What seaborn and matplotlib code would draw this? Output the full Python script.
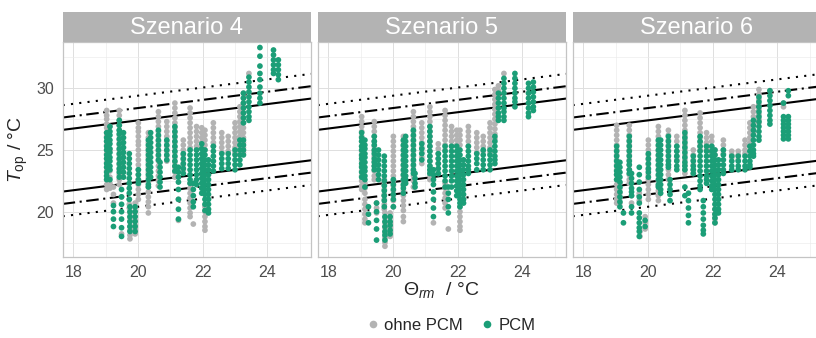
import matplotlib
matplotlib.use("Agg")
import matplotlib.pyplot as plt
from matplotlib.lines import Line2D
import seaborn as sns
import pandas as pd

# Running-mean outdoor temperature (x) and hourly operative temperatures (y) per day
s4_ohne = [
    (19.03, [28.2, 27.8, 27.5, 27.1, 26.8, 26.4, 26.1, 25.7, 25.4, 25.0, 24.7, 24.3, 24.0, 23.6, 23.3, 22.9, 22.6, 22.2, 21.8]),
    (19.13, [26.9, 25.0, 23.3, 22.8, 22.3, 21.9]),
    (19.24, [22.0, 21.4, 20.7]),
    (19.42, [28.2, 27.8, 27.4, 27.0, 26.6, 26.2, 25.8, 25.4, 25.0, 24.6, 24.2, 23.8, 23.4, 23.0, 22.6, 22.2]),
    (19.49, [21.2, 18.2]),
    (19.73, [21.0, 20.6, 20.3]),
    (19.75, [19.9, 19.5, 19.2, 18.8, 18.5, 18.1, 17.8]),
    (19.91, [20.7, 20.3, 20.0, 19.6, 19.3, 18.9, 18.6, 18.2]),
    (20.01, [27.2, 26.8, 26.5, 26.1, 25.7, 25.4, 25.0, 24.6, 24.2, 23.8, 23.4, 23.0, 22.6, 22.2, 21.8, 21.4, 21.0]),
    (20.32, [26.4, 26.0, 25.6, 25.2, 24.8, 24.4, 24.0, 23.6, 23.2, 22.8, 22.4, 22.0, 21.6, 21.2, 20.8, 20.4, 19.9]),
    (20.63, [28.1, 27.7, 27.3, 26.9, 26.5, 26.1, 25.7, 25.3, 24.9, 24.5, 24.1, 23.7, 23.3, 22.9, 22.5, 22.1]),
    (20.89, [27.3, 26.9, 26.5, 26.1, 25.7, 25.3, 24.9, 24.5, 24.1]),
    (21.14, [28.8, 28.4, 28.0, 27.6, 27.2, 26.8, 26.4, 26.0, 25.6, 25.2, 24.8, 24.4, 24.0, 23.6, 23.2, 22.8]),
    (21.25, [21.0, 19.3]),
    (21.40, [25.8, 25.4, 25.0, 24.6, 24.2, 23.8, 23.4]),
    (21.61, [28.4, 28.0, 27.6, 27.2, 26.8, 26.4, 26.0, 25.6, 25.2, 22.3, 21.9, 21.5, 21.1, 20.7, 20.3, 19.9, 19.6]),
    (21.71, [19.0]),
    (21.81, [26.9, 26.5, 26.1, 25.7, 25.3, 25.0]),
    (21.97, [26.8, 26.4, 26.0, 25.6, 25.2]),
    (22.07, [26.6, 26.2, 25.8, 25.4, 25.0, 20.4, 20.0, 19.6, 19.2, 18.8, 18.5]),
    (22.33, [27.2, 26.8, 26.4, 26.0, 25.6, 25.3]),
    (22.59, [26.4, 26.0, 25.6, 25.2, 24.8]),
    (22.79, [26.1, 25.7, 25.3, 24.9]),
    (23.00, [27.2, 26.8, 26.4, 26.0, 25.6, 25.2, 24.8]),
    (23.15, [28.5, 28.1, 27.7, 27.3, 26.9, 26.5, 26.1, 25.8]),
    (23.26, [29.6, 29.2, 28.8, 28.4, 28.0, 27.6, 27.2, 26.8, 26.4, 26.0, 25.6, 25.2, 24.8]),
    (23.43, [31.2]),
]
s4_pcm = [
    (19.03, [26.4, 26.0, 25.7, 25.3, 25.0, 24.6, 24.3, 23.9, 23.6, 23.2, 22.9, 22.6]),
    (19.13, [26.9, 26.5, 26.2, 25.8, 25.5, 25.1, 24.8, 24.4, 24.1, 23.7, 23.4, 22.6]),
    (19.24, [20.5, 20.0, 19.4, 18.8]),
    (19.42, [27.4, 27.0, 26.6, 26.3, 25.9, 25.5, 25.1, 24.7, 24.3, 23.9, 23.5, 23.2, 22.8]),
    (19.49, [21.8, 21.2, 20.6, 20.0, 19.4, 18.7, 18.0]),
    (19.55, [26.4, 26.0, 25.6, 25.2, 24.8, 24.4, 24.0, 23.6, 23.2, 22.8]),
    (19.73, [24.7, 24.3, 23.9, 23.5, 23.1, 22.7, 22.3, 21.9, 21.5, 21.0]),
    (19.75, [20.4, 20.0, 19.6, 19.2, 18.8, 18.4]),
    (19.91, [20.4, 20.0, 19.6, 19.2, 18.8, 18.4]),
    (20.01, [23.4, 23.0, 22.6, 22.3]),
    (20.32, [25.8, 25.4, 25.0, 24.6, 24.2, 23.8, 23.4, 23.0, 22.6, 22.2, 22.0]),
    (20.39, [26.4, 26.0, 25.6, 25.2, 24.8, 24.4, 24.0, 23.6, 23.2, 22.8]),
    (20.63, [26.6, 26.2, 25.8, 25.4, 25.0, 24.6, 24.2]),
    (20.68, [24.0, 23.6, 23.2, 22.8, 22.4, 22.0]),
    (20.89, [25.8, 25.4, 25.0, 24.6, 24.2]),
    (21.14, [26.9, 26.5, 26.1, 25.7, 25.3, 24.9, 24.5, 24.1, 23.7, 23.3]),
    (21.25, [23.6, 23.2, 22.8, 22.4, 21.8, 21.0, 20.2, 19.4]),
    (21.40, [24.7, 24.3, 23.9, 23.5, 23.1]),
    (21.61, [25.0, 24.6, 24.2, 23.8, 23.4, 23.0, 22.6, 22.3]),
    (21.71, [22.3, 21.8, 21.3, 20.8, 20.4]),
    (21.81, [25.0, 24.6, 24.2, 23.8, 23.4, 23.0, 22.6, 22.2]),
    (21.97, [25.5, 25.1, 24.7, 24.3, 23.9, 23.5, 23.1, 22.7, 22.3, 21.9, 21.5]),
    (22.07, [25.0, 24.6, 24.2, 23.8, 23.4, 23.0, 22.6, 22.2, 21.8, 21.4, 21.0, 20.6, 20.1]),
    (22.18, [24.2, 23.8, 23.4, 23.0, 22.6, 22.2, 21.8, 21.4, 21.0, 20.6, 20.2, 19.9]),
    (22.33, [25.3, 24.9, 24.5, 24.1, 23.7, 23.3]),
    (22.59, [24.7, 24.3, 23.9, 23.5]),
    (22.79, [24.7, 24.3, 23.9, 23.5]),
    (23.00, [25.0, 24.6, 24.2, 23.8, 23.4]),
    (23.15, [25.8, 25.4, 25.0, 24.6, 24.2, 23.8]),
    (23.26, [29.6, 29.2, 28.8, 28.4, 28.0, 27.6, 27.2, 25.8, 25.4, 25.0, 24.6]),
    (23.43, [30.9, 30.5, 30.1, 29.7, 29.3, 28.9, 28.5, 28.1, 27.7, 27.4]),
    (23.77, [33.3, 32.6, 31.8, 31.2, 30.7, 30.1, 29.6, 29.2, 28.8]),
    (24.19, [33.1, 32.7, 32.3, 31.9, 31.5, 31.2]),
    (24.34, [32.3, 31.9, 31.5, 31.1, 30.7]),
]

s5_ohne = [
    (19.03, [27.7, 27.3, 26.9, 26.5, 26.1, 25.7, 25.3, 24.9, 24.5, 24.1, 23.7, 23.3, 22.9, 22.5, 22.1, 21.8]),
    (19.13, [22.3, 21.9, 21.5, 21.0, 20.6, 20.2, 19.8, 19.4, 19.1]),
    (19.42, [27.3, 26.9, 26.5, 26.1, 25.7, 25.3, 24.9, 24.5, 24.1, 23.7, 23.3, 22.9, 22.6]),
    (19.49, [20.7, 20.3, 19.9]),
    (19.73, [22.6, 22.2, 21.8, 21.4, 21.0, 20.6, 20.2]),
    (19.75, [19.9, 19.5, 19.1, 18.7, 18.3, 17.9, 17.5, 17.2]),
    (19.91, [19.9, 19.5, 19.1, 18.7, 18.3, 18.0]),
    (20.01, [26.1, 25.7, 25.3, 24.9, 24.5, 24.1, 23.7, 23.3, 22.9, 22.5, 22.1, 21.7, 21.3, 20.9, 20.4]),
    (20.32, [26.1, 25.7, 25.3, 24.9, 24.5, 24.1, 23.7, 23.3, 22.9, 22.5, 22.1, 21.7, 21.3, 20.9, 20.5, 20.1, 19.6, 19.2]),
    (20.63, [28.1, 27.7, 27.3, 26.9, 26.5, 26.1, 25.7, 25.3, 24.9, 24.5, 24.1, 23.7, 23.3, 22.9, 22.5, 22.0]),
    (20.89, [27.2, 26.8, 26.4, 26.0, 25.6, 25.2, 24.8, 24.4, 23.9]),
    (21.14, [28.5, 28.1, 27.7, 27.3, 26.9, 26.5, 26.1, 25.7, 25.3, 24.9, 24.5, 24.1, 23.7, 23.3, 22.9, 22.6]),
    (21.25, [19.1]),
    (21.40, [25.5, 25.1, 24.7, 24.3, 23.9, 23.5, 23.1]),
    (21.61, [28.2, 27.8, 27.4, 27.0, 26.6, 26.2, 25.8, 25.4, 25.0, 22.3, 21.9, 21.5, 21.1, 20.7, 20.3]),
    (21.71, [18.6]),
    (21.81, [26.9, 26.5, 26.1, 25.7, 25.3]),
    (21.97, [26.6, 26.2, 25.8, 25.4]),
    (22.07, [26.6, 26.2, 25.8, 25.4, 20.4, 20.0, 19.6, 19.2, 18.8, 18.5]),
    (22.33, [26.9, 26.5, 26.1, 25.7, 25.3]),
    (22.59, [26.4, 26.0, 25.6, 25.2, 24.8]),
    (22.79, [26.1, 25.7, 25.3, 24.9]),
    (23.00, [27.2, 26.8, 26.4, 26.0, 25.6, 25.2, 24.8]),
    (23.15, [29.9, 29.5, 29.1, 28.7, 28.3, 27.9, 27.5, 27.1, 26.7, 26.3, 25.9]),
    (23.26, [30.2, 29.8]),
    (23.43, [31.2]),
]
s5_pcm = [
    (19.03, [26.4, 26.0, 25.7, 25.3, 25.0, 24.6, 24.3, 23.9, 23.6, 23.2, 22.8]),
    (19.13, [25.8, 25.4, 25.1, 24.7, 24.4, 24.0, 23.6, 23.3, 22.9, 22.6, 22.0]),
    (19.24, [20.4, 19.8, 19.1]),
    (19.42, [26.1, 25.7, 25.4, 25.0, 24.7, 24.3, 24.0, 23.7, 23.4]),
    (19.49, [20.7, 20.0, 19.3, 18.6, 17.7]),
    (19.55, [25.0, 24.6, 24.2, 23.8, 23.4, 23.0, 22.6]),
    (19.73, [24.5, 24.1, 23.7, 23.3, 22.9, 22.5, 22.1, 21.7, 21.3, 20.9, 20.4]),
    (19.75, [19.6, 19.2, 18.8, 18.4, 18.1, 17.7]),
    (19.91, [19.6, 19.2, 18.9, 18.5, 18.2]),
    (20.01, [22.6, 22.2, 21.8, 21.4, 21.0, 20.4]),
    (20.32, [25.8, 25.4, 25.0, 24.6, 24.2, 23.8, 23.4, 23.0, 22.6, 22.2, 21.9, 21.5]),
    (20.39, [26.1, 25.7, 25.3, 24.9, 24.5, 24.1, 23.7, 23.3, 22.9, 22.6, 22.3]),
    (20.63, [26.6, 26.2, 25.8, 25.4, 25.0, 24.6, 24.2, 23.8, 23.4, 23.1]),
    (20.68, [23.1, 22.7, 22.3, 22.0]),
    (20.89, [25.5, 25.1, 24.7, 24.2]),
    (21.14, [26.9, 26.5, 26.1, 25.7, 25.3, 24.9, 24.5, 24.1, 23.7, 23.4, 23.1]),
    (21.25, [23.4, 23.0, 22.6, 22.2, 21.6, 21.0, 20.3, 19.6]),
    (21.40, [24.7, 24.3, 23.9, 23.5, 23.1]),
    (21.61, [25.3, 24.9, 24.5, 24.1, 23.7, 23.3, 22.9, 22.5, 22.0]),
    (21.71, [22.0, 21.5, 21.0, 20.4, 19.9]),
    (21.81, [25.3, 24.9, 24.5, 24.1, 23.7, 23.3, 22.9, 22.5, 22.0]),
    (21.97, [25.3, 24.9, 24.5, 24.1, 23.7, 23.3, 22.9, 22.5, 22.1, 21.7, 21.3]),
    (22.07, [25.0, 24.6, 24.2, 23.8, 23.4, 23.0, 22.6, 22.2, 21.8, 21.4, 21.0, 20.7, 20.4]),
    (22.18, [24.2, 23.8, 23.4, 23.0, 22.6, 22.2, 21.8, 21.4, 21.0, 20.7]),
    (22.33, [25.3, 24.9, 24.5, 24.1, 23.7, 23.4, 23.1]),
    (22.59, [24.7, 24.3, 23.9, 23.4]),
    (22.79, [25.0, 24.6, 24.2, 23.8, 23.4]),
    (23.00, [25.0, 24.6, 24.2, 23.8, 23.4]),
    (23.15, [26.1, 25.7, 25.3, 24.9, 24.5, 24.2, 23.9]),
    (23.26, [29.6, 29.2, 28.8, 28.4, 28.0, 27.7, 27.4]),
    (23.43, [30.8, 30.4, 30.0, 29.6, 29.2, 28.8, 28.4, 28.1, 27.7, 27.4]),
    (23.77, [31.2, 30.8, 30.4, 30.0, 29.6, 29.2, 28.9, 28.5]),
    (24.19, [30.4, 30.0, 29.6, 29.2, 28.8, 28.4, 28.0, 27.7]),
    (24.34, [30.5, 30.1, 29.7, 29.3, 28.9, 28.5, 28.2]),
]

s6_ohne = [
    (19.03, [27.0, 26.6, 26.2, 25.8, 25.4, 25.0, 24.6, 24.2, 23.8, 23.4, 23.0, 22.6, 22.2, 21.8, 21.4, 21.0, 20.7]),
    (19.13, [22.3, 21.9, 21.5, 21.1, 20.7]),
    (19.42, [27.0, 26.6, 26.2, 25.8, 25.4, 25.0, 24.6, 24.2, 23.8, 23.4, 23.0, 22.6, 22.3]),
    (19.49, [21.3, 20.7]),
    (19.73, [21.5, 20.9]),
    (19.75, [18.4, 18.0]),
    (19.91, [19.6, 19.1, 18.6]),
    (20.01, [25.8, 25.4, 25.0, 24.6, 24.2, 23.8, 23.4, 23.0, 22.6, 22.2, 21.8, 21.4, 21.0]),
    (20.32, [26.9, 26.5, 26.1, 25.7, 25.3, 24.9, 24.5, 24.1, 23.7, 23.3, 22.9, 22.5, 22.1, 21.7, 21.3, 20.9]),
    (20.63, [26.6, 26.2, 25.8, 25.4, 25.0, 24.6, 24.2, 23.8, 23.4, 23.0, 22.6]),
    (20.89, [26.1, 25.7, 25.3, 24.9, 24.5, 24.2]),
    (21.14, [28.2, 27.8, 27.4, 27.0, 26.6, 26.2, 25.8, 25.4, 25.0, 24.6, 24.2, 23.8, 23.4, 23.1]),
    (21.40, [25.0, 24.6, 24.2, 23.8, 23.4, 23.1]),
    (21.61, [28.0, 27.6, 27.2, 26.8, 26.4, 26.0, 25.6, 25.3, 25.0]),
    (21.81, [26.4, 26.0, 25.6, 25.3, 25.0]),
    (21.97, [26.1, 25.7, 25.3, 25.0, 24.7]),
    (22.07, [25.0, 24.6, 20.2, 19.8, 19.4, 19.1]),
    (22.33, [25.8, 25.4, 25.0, 24.7]),
    (22.59, [24.9, 24.6, 24.4]),
    (22.79, [24.9, 24.6, 24.2]),
    (23.00, [25.8, 25.4, 25.0, 24.7]),
    (23.15, [27.2, 26.8, 26.4, 26.0, 25.6, 25.3]),
    (23.26, [28.5, 28.1, 27.7, 27.3, 26.9, 26.6, 26.4]),
    (23.43, [29.9, 29.5, 29.1, 28.7, 28.3, 27.9, 27.5, 27.2]),
    (23.77, [29.8]),
    (24.19, [28.8, 28.5]),
]
s6_pcm = [
    (19.03, [25.3, 24.9, 24.5, 24.1, 23.7, 23.3, 23.0, 22.6]),
    (19.13, [24.0, 23.6, 23.2, 22.8, 22.4, 22.0, 21.6, 21.2, 20.8, 20.4]),
    (19.24, [19.9, 19.1]),
    (19.42, [26.1, 25.7, 25.3, 24.9, 24.5, 24.1, 23.8, 23.4, 23.1]),
    (19.49, [23.1, 22.7, 22.3, 21.9, 21.6, 21.3, 20.4, 19.9]),
    (19.73, [23.6, 23.0, 22.4, 21.8, 21.2, 20.7, 19.9, 19.5, 19.1, 18.7, 18.4, 18.0]),
    (19.91, [19.3, 18.8]),
    (20.01, [24.7, 24.3, 23.9, 23.5, 23.2, 22.8]),
    (20.32, [25.8, 25.4, 25.0, 24.6, 24.2, 23.8, 23.4, 23.0, 22.6, 22.2, 22.0]),
    (20.39, [25.8, 25.4, 25.0, 24.6, 24.2, 23.8, 23.4, 23.0, 22.6, 22.2, 21.8, 21.5]),
    (20.63, [26.1, 25.7, 25.3, 24.9, 24.5, 24.1, 23.8, 23.6]),
    (20.68, [22.6, 22.2, 21.8, 21.4, 20.9]),
    (20.89, [25.3, 24.9, 24.5, 24.1, 23.7, 23.4]),
    (21.14, [26.4, 26.0, 25.6, 25.2, 24.8, 24.4, 24.0, 23.7, 23.4, 22.0, 21.3]),
    (21.25, [21.5, 20.9, 20.3, 19.7, 19.1]),
    (21.40, [24.5, 24.1, 23.7, 23.4, 23.1]),
    (21.61, [26.1, 25.7, 25.3, 24.9, 24.5, 24.1, 23.7, 23.3, 22.9, 22.5, 22.1, 21.8]),
    (21.71, [20.9, 20.4, 19.9, 19.4, 18.9, 18.5, 18.2]),
    (21.81, [25.3, 24.9, 24.5, 24.1, 23.7, 23.3, 22.9, 22.6, 22.3]),
    (21.97, [25.3, 24.9, 24.5, 24.1, 23.7, 23.3, 22.9, 22.5, 22.1, 21.8]),
    (22.07, [25.0, 24.6, 24.2, 23.8, 23.4, 23.0, 22.6, 22.2, 21.8, 21.4, 21.0, 20.6, 20.2, 19.8, 19.5, 19.1]),
    (22.18, [24.2, 23.8, 23.4, 23.0, 22.6, 22.2, 21.8, 21.4, 21.0, 20.6, 20.2, 19.9]),
    (22.33, [25.0, 24.6, 24.2, 23.8, 23.4, 23.1]),
    (22.59, [24.5, 24.1, 23.7, 23.4]),
    (22.79, [24.5, 24.1, 23.7, 23.4]),
    (23.00, [24.5, 24.1, 23.7, 23.4]),
    (23.15, [25.3, 24.9, 24.5, 24.1, 23.8, 23.6]),
    (23.26, [27.4, 27.0, 26.6, 26.2, 25.8, 25.4, 25.0, 24.7, 24.5]),
    (23.43, [29.3, 28.9, 28.5, 28.1, 27.7, 27.3, 26.9, 26.5, 26.1, 25.8]),
    (23.77, [29.8, 29.4, 29.0, 28.6, 28.2, 27.8, 27.4, 27.1]),
    (24.19, [28.8, 27.7, 27.4, 27.1, 26.8, 26.5, 26.2, 25.9]),
    (24.34, [29.8, 29.4, 27.7, 27.4, 27.1, 26.8, 26.5, 26.2, 25.9]),
]

scenarios = ["Szenario 4", "Szenario 5", "Szenario 6"]
series = {
    "Szenario 4": (s4_ohne, s4_pcm),
    "Szenario 5": (s5_ohne, s5_pcm),
    "Szenario 6": (s6_ohne, s6_pcm),
}
variants = ["ohne PCM", "PCM"]
colors = {"ohne PCM": "#B3B3B3", "PCM": "#1B9E77"}

# Adaptive comfort band (EN 15251): T = 0.33 * theta_rm + 18.8 + offset
comfort_slope = 0.33
comfort_base = 18.8
upper_offsets = [2, 3, 4]
lower_offsets = [-3, -4, -5]
band_styles = ["-", (0, (6, 2.2, 1, 2.2)), (0, (1, 3))]

x_ticks = [18, 20, 22, 24]
y_ticks = [20, 25, 30]
x_lim = (17.67, 25.35)
y_lim = (16.33, 33.75)


def to_frame(rows, label):
    recs = []
    for theta, temps in rows:
        for t in temps:
            recs.append({"theta": theta, "top": t, "Variante": label})
    return recs


sns.set_theme(style="white")
plt.rcParams["font.family"] = ["Liberation Sans", "DejaVu Sans"]
plt.rcParams["mathtext.fontset"] = "custom"
plt.rcParams["mathtext.rm"] = "Liberation Sans"
plt.rcParams["mathtext.it"] = "Liberation Sans:italic"

W, H = 816, 338
fig = plt.figure(figsize=(W / 100, H / 100), dpi=100)

panel_left = 62.7
panel_step = 255.0
panel_w = 248.3
panel_top = 42.0
panel_bottom = 257.0
strip_top = 12.0

for i, sc in enumerate(scenarios):
    x0 = (panel_left + i * panel_step) / W
    ax = fig.add_axes([x0, 1 - panel_bottom / H, panel_w / W, (panel_bottom - panel_top) / H])
    ohne, pcm = series[sc]
    df = pd.DataFrame(to_frame(ohne, "ohne PCM") + to_frame(pcm, "PCM"))

    ax.set_xlim(*x_lim)
    ax.set_ylim(*y_lim)
    ax.set_xticks(x_ticks)
    ax.set_yticks(y_ticks)
    ax.set_xticks([19, 21, 23, 25], minor=True)
    ax.set_yticks([17.5, 22.5, 27.5, 32.5], minor=True)
    ax.grid(True, which="major", color="#DEDEDE", linewidth=0.7)
    ax.grid(True, which="minor", color="#EBEBEB", linewidth=0.45)
    ax.set_axisbelow(True)

    for off, ls in zip(upper_offsets, band_styles):
        ax.axline((0, comfort_base + off), slope=comfort_slope, color="black",
                  linewidth=1.5, linestyle=ls, zorder=2)
    for off, ls in zip(lower_offsets, band_styles):
        ax.axline((0, comfort_base + off), slope=comfort_slope, color="black",
                  linewidth=1.5, linestyle=ls, zorder=2)

    sns.scatterplot(data=df, x="theta", y="top", hue="Variante", hue_order=variants,
                    palette=colors, s=17, linewidth=0, alpha=1.0, legend=False,
                    ax=ax, zorder=3)

    ax.set_xlabel("")
    ax.set_ylabel("")
    for sp in ax.spines.values():
        sp.set_color("#C4C4C4")
        sp.set_linewidth(0.9)
    ax.tick_params(axis="both", which="major", length=3, width=0.7, color="#B3B3B3",
                   labelsize=11.5, labelcolor="#4D4D4D", pad=3)
    ax.tick_params(axis="both", which="minor", length=0)
    if i > 0:
        ax.tick_params(axis="y", labelleft=False, length=0)

    # facet strip
    sax = fig.add_axes([x0, 1 - panel_top / H, panel_w / W, (panel_top - strip_top) / H])
    sax.set_facecolor("#B3B3B3")
    sax.set_xticks([])
    sax.set_yticks([])
    for sp in sax.spines.values():
        sp.set_visible(False)
    sax.text(0.5, 0.45, sc, color="white", fontsize=17, ha="center", va="center",
             transform=sax.transAxes)

fig.text(18 / W, 1 - 150 / H, r"$T_{\mathrm{op}}$ / °C", rotation=90, fontsize=14,
         ha="center", va="center")
fig.text(441 / W, 1 - 290 / H, r"$\Theta_{rm}$  / °C", fontsize=14, ha="center", va="center")

handles = [Line2D([0], [0], marker="o", linestyle="", markersize=5.5,
                  markerfacecolor=colors[v], markeredgewidth=0, label=v) for v in variants]
fig.legend(handles=handles, loc="center", bbox_to_anchor=(449 / W, 1 - 325 / H), ncol=2,
           frameon=False, fontsize=12, handletextpad=0.1, columnspacing=0.8,
           handlelength=1.2)

fig.savefig("out.png", dpi=100)
